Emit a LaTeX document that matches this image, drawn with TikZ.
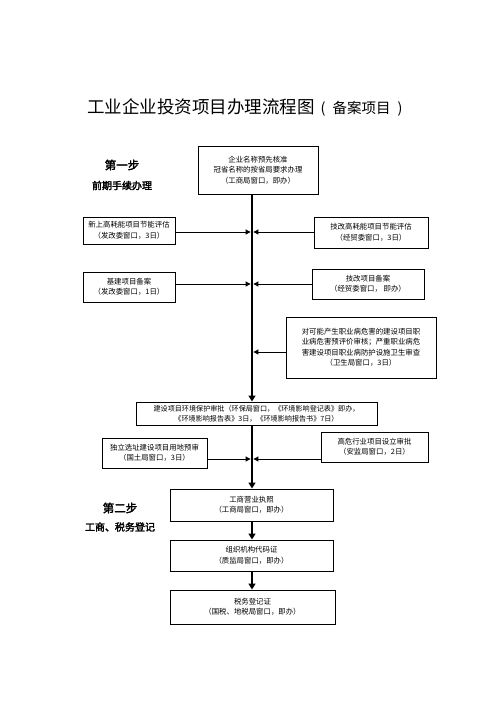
\documentclass[tikz,border=0pt]{standalone}
\usepackage{fontspec}
\setmainfont{Noto Sans CJK SC}
\newfontfamily\stepfont[FakeBold=2.5]{Noto Sans CJK SC}
\usepackage{tikz}
\usetikzlibrary{arrows.meta,calc,positioning}
\tikzset{
    stepbox/.style={draw=black,line width=1pt,align=center,inner sep=0pt,font=\fontsize{7.4}{10.5}\selectfont},
    trunk/.style={line width=2.6pt,draw=black},
    trunkarrow/.style={trunk,-{Triangle[length=6pt,width=7pt]}},
    sidearrow/.style={line width=0.9pt,draw=black,-{Triangle[length=5pt,width=5pt]}},
    steptitle/.style={font=\stepfont\fontsize{11.5}{12}\selectfont},
    stepsub/.style={font=\stepfont\fontsize{10}{11}\selectfont}
}
\begin{document}
\begin{tikzpicture}[x=1pt,y=-1pt]
          \useasboundingbox (0,0) rectangle (496,702);
          % 主干线的位置与侧向箭头的落点
          \coordinate (T) at (252,0);
          \coordinate (a1) at (252,232);
          \coordinate (a2) at (252,284);
          \coordinate (a3) at (252,352);
          \coordinate (a4) at (252,459);
          \node[anchor=west,inner sep=0pt] (title) at (87,107.5)
               {\fontsize{17.5}{20}\selectfont 工业企业投资项目办理流程图\hspace{6pt}\fontsize{14.5}{20}\selectfont(\hspace{7pt}备案项目\hspace{7pt})};
          \node[steptitle] (step1) at (122,165) {第一步};
          \node[stepsub] (step1sub) at (122,185.5) {前期手续办理};
          \node[steptitle] (step2) at (120,508) {第二步};
          \node[stepsub] (step2sub) at (120,527) {工商、税务登记};
          \node[stepbox,minimum width=120,minimum height=48] (mcjz) at (258,170)
               {企业名称预先核准\\冠省名称的按省局要求办理\\（工商局窗口，即办）};
          \node[stepbox,minimum width=92,minimum height=27] (xgn) at (129,230.5)
               {新上高耗能项目节能评估\\（发改委窗口，3日）};
          \node[stepbox,minimum width=114,minimum height=31] (jgn) at (371,232.5)
               {技改高耗能项目节能评估\\（经贸委窗口，3日）};
          \node[stepbox,minimum width=92,minimum height=30] (jjba) at (129,287)
               {基建项目备案\\（发改委窗口，1日）};
          \node[stepbox,minimum width=112,minimum height=30] (jgba) at (368,284)
               {技改项目备案\\（经贸委窗口， 即办）};
          \node[stepbox,minimum width=150,minimum height=61] (zyb) at (361,347.5)
               {对可能产生职业病危害的建设项目职\\业病危害预评价审核；严重职业病危\\害建设项目职业病防护设施卫生审查\\（卫生局窗口，3日）};
          \node[stepbox,minimum width=241,minimum height=23,font=\fontsize{7.1}{10}\selectfont] (hb) at (256.5,413.5)
               {建设项目环境保护审批（环保局窗口，《环境影响登记表》即办，\\《环境影响报告表》3日，《环境影响报告书》7日）};
          \node[stepbox,minimum width=105,minimum height=30] (ydys) at (154.5,453)
               {独立选址建设项目用地预审\\（国土局窗口，3日）};
          \node[stepbox,minimum width=107,minimum height=30] (gwhy) at (374.5,447)
               {高危行业项目设立审批\\（安监局窗口，2日）};
          \node[stepbox,minimum width=163,minimum height=32] (gsyy) at (251.5,505)
               {工商营业执照\\（工商局窗口，即办）};
          \node[stepbox,minimum width=163,minimum height=31] (zzjg) at (251.5,555.5)
               {组织机构代码证\\（质监局窗口，即办）};
          \node[stepbox,minimum width=165,minimum height=34] (swdj) at (252.5,607)
               {税务登记证\\（国税、地税局窗口，即办）};
          \draw[trunkarrow] (mcjz.south -| T) -- (hb.north -| T);
          \draw[trunkarrow] (hb.south -| T) -- (gsyy.north -| T);
          \draw[trunkarrow] (gsyy.south -| T) -- (zzjg.north -| T);
          \draw[trunkarrow] (zzjg.south -| T) -- (swdj.north -| T);
          \draw[sidearrow] (xgn.east |- a1) -- ([xshift=-1.4pt]a1);
          \draw[sidearrow] (jgn.west |- a1) -- ([xshift=1.4pt]a1);
          \draw[sidearrow] (jjba.east |- a2) -- ([xshift=-1.4pt]a2);
          \draw[sidearrow] (jgba.west |- a2) -- ([xshift=1.4pt]a2);
          \draw[sidearrow] (zyb.west |- a3) -- ([xshift=1.4pt]a3);
          \draw[sidearrow] (ydys.east |- a4) -- ([xshift=-1.4pt]a4);
          \draw[sidearrow] (gwhy.west |- a4) -- ([xshift=1.4pt]a4);
        \end{tikzpicture}
\end{document}
